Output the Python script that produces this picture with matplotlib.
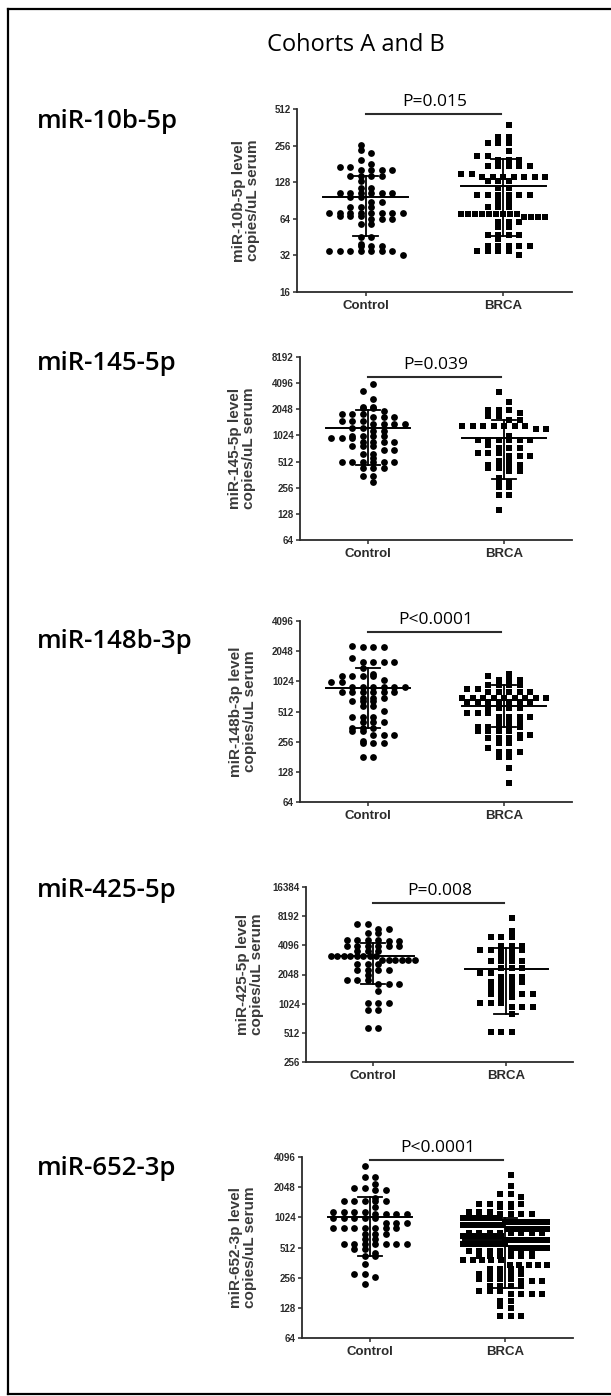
import numpy as np
import matplotlib
matplotlib.use("Agg")
import matplotlib.pyplot as plt
from matplotlib.lines import Line2D

W, H = 611, 1396

# ---- data (copies/uL serum) ----
genes = ["miR-10b-5p", "miR-145-5p", "miR-148b-3p", "miR-425-5p", "miR-652-3p"]
p_texts = ["P=0.015", "P=0.039", "P<0.0001", "P=0.008", "P<0.0001"]
groups = ["Control", "BRCA"]

ctrl_10b = [260, 237, 223, 195, 180, 170, 170, 160, 160, 160, 160, 145, 145, 145, 145, 130,
            115, 115, 105, 105, 105, 105, 105, 105, 97, 97, 88, 88, 80, 80, 80,
            72, 72, 72, 72, 72, 72, 72, 72, 68, 68, 68, 64, 64, 64, 58, 58, 45, 45, 40,
            38, 38, 38, 35, 35, 35, 35, 35, 35, 35, 32]
brca_10b = [380, 300, 300, 270, 270, 270, 230, 210, 210, 195, 195, 195, 175, 175, 175, 175, 175,
            150, 150, 140, 140, 140, 140, 140, 140, 140, 130, 130, 130, 115, 115,
            100, 100, 100, 100, 100, 100, 90, 90, 80, 80, 80,
            70, 70, 70, 70, 70, 70, 70, 70, 70, 66, 66, 66, 66, 60, 60, 60, 55, 55,
            47, 47, 47, 47, 44, 38, 38, 38, 38, 38, 35, 35, 35, 35, 32]

ctrl_145 = [4000, 3300, 2700, 2200, 2200, 2100, 2100, 1950, 1800, 1800, 1800, 1650, 1650, 1650,
            1500, 1500, 1500, 1400, 1400, 1400, 1400, 1250, 1250, 1150, 1150,
            1000, 1000, 1000, 1000, 950, 950, 950, 850, 850, 850, 850, 780, 780, 780,
            700, 700, 620, 620, 560, 500, 500, 500, 500, 500, 500, 430, 430, 430, 350, 350, 300]
brca_145 = [3200, 2500, 2000, 2000, 2000, 1850, 1700, 1700, 1550, 1550,
            1300, 1300, 1300, 1300, 1300, 1300, 1300, 1200, 1200, 1000,
            900, 900, 900, 900, 900, 900, 800, 730, 730, 730, 650, 650, 650, 600, 600, 600,
            520, 520, 470, 470, 470, 470, 430, 430, 400, 400, 330, 300, 300, 260, 260, 210, 210, 140]

ctrl_148b = [2300, 2250, 2250, 2250, 1750, 1600, 1600, 1600, 1600, 1400, 1200, 1150, 1150, 1150, 1150,
             1050, 1000, 1000, 900, 900, 900, 900, 900, 900, 800, 800, 800, 800, 800, 800,
             700, 700, 700, 650, 650, 650, 580, 580, 520, 450, 450, 450, 400, 400, 400,
             350, 350, 350, 330, 330, 300, 300, 300, 260, 250, 250, 250, 180, 180]
brca_148b = [1200, 1150, 1050, 1050, 1050, 950, 950, 950, 950, 850, 850, 800, 800, 800, 800, 800,
             700, 700, 700, 700, 700, 700, 700, 700, 700, 640, 640, 640, 640, 640, 640, 640,
             560, 560, 560, 560, 500, 500, 500, 450, 450, 450, 450, 400, 400, 400,
             360, 360, 360, 360, 360, 330, 330, 330, 330, 300, 300, 280, 280, 280, 280,
             250, 250, 220, 200, 200, 200, 180, 180, 140, 100]

ctrl_425 = [6800, 6800, 6000, 6000, 5500, 5500, 4700, 4700, 4700, 4700, 4500, 4500,
            4000, 4000, 4000, 4000, 4000, 4000, 3600, 3600, 3600,
            3200, 3200, 3200, 3200, 3200, 3200, 3200, 3200, 2900, 2900, 2900, 2900, 2900, 2900,
            2600, 2600, 2600, 2300, 2300, 2300, 2300, 2000, 1800, 1800, 1800, 1650, 1650, 1650,
            1400, 1050, 1050, 1050, 880, 880, 580, 580]
brca_425 = [7800, 5800, 5000, 5000, 5000, 4000, 4000, 4000, 3700, 3700, 3700, 3700, 3700,
            3200, 3200, 2800, 2800, 2800, 2800, 2400, 2400, 2400, 2100, 2100, 1950, 1950, 1950,
            1700, 1700, 1700, 1700, 1500, 1500, 1500, 1300, 1300, 1300, 1300, 1300, 1200, 1200,
            1050, 1050, 1050, 950, 950, 950, 800, 520, 520, 520]

ctrl_652 = [3300, 2600, 2600, 2200, 2000, 2000, 1900, 1900, 1600, 1500, 1500, 1500, 1500, 1500,
            1300, 1150, 1150, 1150, 1150, 1100, 1100, 1100, 1100, 1000, 1000, 1000, 1000, 1000,
            900, 900, 900, 800, 800, 800, 800, 800, 800, 800, 700, 700, 700, 620, 620,
            560, 560, 560, 560, 560, 560, 560, 500, 500, 450, 420, 420, 350, 280, 280, 260, 220]
brca_652 = [2700, 2100, 1750, 1750, 1650, 1400, 1400, 1400, 1400, 1400, 1300, 1300,
            1150, 1150, 1150, 1100, 1100, 1100, 1100,
            1000, 1000, 1000, 1000, 1000, 1000, 1000,
            920, 920, 920, 920, 920, 920, 920, 920,
            850, 850, 850, 850, 850, 850, 850, 850,
            780, 780, 780, 780, 780, 780, 780, 780,
            720, 720, 720, 720, 720, 720, 720, 720,
            660, 660, 660, 660, 660, 660, 660, 660, 660,
            610, 610, 610, 610, 610, 610, 610, 610, 610, 610,
            560, 560, 560, 560, 560, 560, 560, 560, 560,
            510, 510, 510, 510, 510, 510, 510, 510,
            470, 470, 470, 470, 470, 470, 470,
            420, 420, 420, 420, 420, 420,
            380, 380, 380, 380, 380, 340, 340, 340, 340, 340,
            310, 310, 310, 310, 280, 280, 280, 280, 280, 250, 250, 250, 250,
            235, 235, 235, 210, 210, 210, 210, 190, 190, 190, 175, 175, 175, 175,
            150, 150, 135, 128, 105, 105, 105]

controls = [ctrl_10b, ctrl_145, ctrl_148b, ctrl_425, ctrl_652]
brcas = [brca_10b, brca_145, brca_148b, brca_425, brca_652]

# centre line and error bar ends (centre, low, high) per group
ctrl_stats = [(97, 46, 145), (1240, 470, 2000), (880, 350, 1380), (3150, 1650, 4300), (1024, 420, 1650)]
brca_stats = [(120, 46, 200), (960, 320, 1550), (580, 360, 950), (2350, 800, 3800), (610, 200, 1000)]

y_limits = [(16, 512), (64, 8192), (64, 4096), (256, 16384), (64, 4096)]
sig_bar_y = [466, 4800, 3200, 11200, 3800]

# ---- layout in pixels ----
axes_px = [(297, 109, 572, 292), (300, 357, 572, 540), (300, 621, 572, 802),
           (306, 887, 573, 1062), (302, 1157, 573, 1338)]
ylabel_x = [246, 242, 243, 250, 243]
gene_baseline = [128, 370, 648, 897, 1175]

ink = "#2b2b2b"


def row_offsets(vals, ylo, yhi, h_px, unit_px, bin_px=6.0, dx=10.5, maxw=42.0):
    # Prism-style scatter: values in the same band sit in one centred row
    ys = (np.log2(vals) - np.log2(ylo)) / (np.log2(yhi) - np.log2(ylo)) * h_px
    bins = np.floor(ys / bin_px).astype(int)
    xs = np.zeros(len(vals))
    for bb in np.unique(bins):
        idx = np.where(bins == bb)[0]
        n = len(idx)
        step = dx if (n - 1) * dx <= 2 * maxw else 2 * maxw / (n - 1)
        pos = (np.arange(n) - (n - 1) / 2.0) * step
        if n % 2 == 1 and (n - 1) * dx < 2 * maxw - dx:
            # nudge odd rows sideways so single points do not pile up in one column
            pos = pos + (dx / 2.0) * (1 if bb % 2 else -1)
        xs[idx] = pos
    return xs / unit_px


fig = plt.figure(figsize=(W / 100, H / 100), dpi=100)

# frame round the whole figure
fig.add_artist(Line2D([8 / W, 8 / W], [1 - 9 / H, 1 - 1394 / H], color="black", lw=1.6))
fig.add_artist(Line2D([8 / W, 1], [1 - 9 / H, 1 - 9 / H], color="black", lw=1.6))
fig.add_artist(Line2D([8 / W, 1], [1 - 1394 / H, 1 - 1394 / H], color="black", lw=1.6))

fig.text(356 / W, 1 - 45 / H, "Cohorts A and B", ha="center", va="center",
         fontsize=17, family="Open Sans", color="black")

for k in range(5):
    l, t, r, b = axes_px[k]
    ax = fig.add_axes([l / W, 1 - b / H, (r - l) / W, (b - t) / H])
    ylo, yhi = y_limits[k]
    ax.set_yscale("log", base=2)
    ax.set_ylim(ylo, yhi)
    ax.set_xlim(-0.5, 1.5)
    unit_px = (r - l) / 2.0

    for g, (vals, marker, size, st) in enumerate([(controls[k], "o", 24, ctrl_stats[k]),
                                                   (brcas[k], "s", 22, brca_stats[k])]):
        vals = np.array(vals, dtype=float)
        off = row_offsets(vals, ylo, yhi, b - t, unit_px)
        ax.scatter(g + off, vals, s=size, marker=marker, color="black", linewidths=0, zorder=3)
        m, lo, hi = st
        ax.plot([g - 0.31, g + 0.31], [m, m], color="black", lw=1.4, zorder=4)
        ax.plot([g, g], [lo, hi], color="black", lw=1.3, zorder=4)
        for v in (lo, hi):
            ax.plot([g - 0.09, g + 0.09], [v, v], color="black", lw=1.3, zorder=4)

    # significance bar
    ax.plot([0, 0.98], [sig_bar_y[k]] * 2, color=ink, lw=1.5, clip_on=False)
    ax.annotate(p_texts[k], xy=(0.5, sig_bar_y[k]), xytext=(0, 3), textcoords="offset points",
                ha="center", va="bottom", fontsize=12.5, family="Open Sans", color="black",
                annotation_clip=False)

    ticks = [2 ** e for e in range(int(np.log2(ylo)), int(np.log2(yhi)) + 1)]
    ax.set_yticks(ticks)
    ax.set_yticklabels([str(v) for v in ticks])
    ax.yaxis.set_minor_locator(matplotlib.ticker.NullLocator())
    ax.set_xticks([0, 1])
    ax.set_xticklabels(groups)
    for lab in ax.get_yticklabels():
        lab.set_fontsize(7)
        lab.set_fontweight("bold")
        lab.set_family(["Liberation Sans Narrow", "Liberation Sans"])
        lab.set_color(ink)
    for lab in ax.get_xticklabels():
        lab.set_fontsize(9.5)
        lab.set_fontweight("bold")
        lab.set_family("Liberation Sans")
        lab.set_color(ink)
    ax.tick_params(axis="both", direction="out", length=3, width=1.1, color=ink, pad=1.5)
    ax.tick_params(axis="x", pad=3)
    for side in ("top", "right"):
        ax.spines[side].set_visible(False)
    for side in ("left", "bottom"):
        ax.spines[side].set_linewidth(1.3)
        ax.spines[side].set_color(ink)
    ax.patch.set_alpha(0)

    fig.text(ylabel_x[k] / W, 1 - (t + b) / 2 / H,
             genes[k] + " level\ncopies/uL serum", rotation=90, ha="center", va="center",
             fontsize=11, fontweight="bold", family="Liberation Sans", color="#3a3a3a",
             linespacing=1.05)
    fig.text(37 / W, 1 - gene_baseline[k] / H, genes[k], ha="left", va="baseline",
             fontsize=18.5, fontweight="semibold", family="Open Sans", color="black")

fig.savefig("out.png", dpi=100)
